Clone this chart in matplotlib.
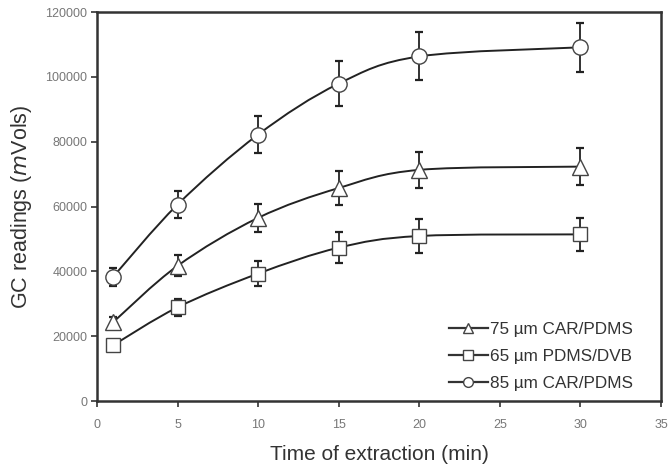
import matplotlib
matplotlib.use("Agg")
import matplotlib.pyplot as plt
import numpy as np
from matplotlib.path import Path
from matplotlib.patches import PathPatch
from matplotlib.lines import Line2D

plt.rcParams['font.family'] = ['Liberation Sans', 'DejaVu Sans']

time_min = [1, 5, 10, 15, 20, 30]
car75 = [24300, 41700, 56500, 65700, 71300, 72300]
car75_err = [1500, 3200, 4300, 5200, 5600, 5700]
pdms65 = [17200, 28900, 39300, 47300, 50900, 51400]
pdms65_err = [1000, 2700, 3900, 4700, 5100, 5100]
car85 = [38300, 60600, 82200, 97900, 106300, 109100]
car85_err = [2700, 4300, 5800, 7000, 7400, 7600]

labels = ["75 µm CAR/PDMS", "65 µm PDMS/DVB", "85 µm CAR/PDMS"]
markers = ["^", "s", "o"]
series = [(car75, car75_err), (pdms65, pdms65_err), (car85, car85_err)]

fig = plt.figure(figsize=(6.69, 4.67), dpi=100)
ax = fig.add_axes([97/669, 1-401/467, (661-97)/669, (401-12)/467])


def smooth_path(x, y, t=0.5):
    # Catmull-Rom style cubic Bezier through data points (Excel-like smoothing)
    x = np.asarray(x, float); y = np.asarray(y, float)
    n = len(x)
    verts = [(x[0], y[0])]
    codes = [Path.MOVETO]
    for i in range(n - 1):
        x0, y0 = (x[i-1], y[i-1]) if i > 0 else (x[i], y[i])
        x3, y3 = (x[i+2], y[i+2]) if i + 2 < n else (x[i+1], y[i+1])
        c1 = (x[i] + (x[i+1] - x0) * t / 3, y[i] + (y[i+1] - y0) * t / 3)
        c2 = (x[i+1] - (x3 - x[i]) * t / 3, y[i+1] - (y3 - y[i]) * t / 3)
        verts += [c1, c2, (x[i+1], y[i+1])]
        codes += [Path.CURVE4] * 3
    return Path(verts, codes)


for (vals, errs), m in zip(series, markers):
    ax.add_patch(PathPatch(smooth_path(time_min, vals, t=0.5), fill=False,
                           edgecolor='#222222', lw=1.4, zorder=2))
    ax.errorbar(time_min, vals, yerr=errs, fmt='none', ecolor='#222222',
                elinewidth=1.3, capsize=3, capthick=1.6, zorder=3)
    ax.plot(time_min, vals, linestyle='none', marker=m,
            markersize=11 if m != 's' else 10,
            markerfacecolor='white', markeredgecolor='#444444', markeredgewidth=1.0, zorder=4)

ax.set_xlim(0, 35)
ax.set_ylim(0, 120000)
ax.set_xticks(range(0, 36, 5))
ax.set_yticks(range(0, 120001, 20000))
ax.tick_params(direction='out', length=4, width=1.2, labelsize=9, labelcolor='#777777',
               colors='#333333', pad=3)
ax.tick_params(axis='x', pad=9)
for s in ax.spines.values():
    s.set_linewidth(1.8)
    s.set_color('#333333')

ax.set_xlabel("Time of extraction (min)", fontsize=15, color='#333333', labelpad=10)
ax.set_ylabel(r"GC readings ($\mathit{m}$Vols)", fontsize=15.5, color='#333333', labelpad=8)

handles = [Line2D([], [], color='#333333', lw=1.6, marker=m, markersize=7,
                  markerfacecolor='white', markeredgecolor='#444444') for m in markers]
ax.legend(handles, labels, loc='lower right', frameon=False, fontsize=12.3,
          handlelength=2.3, handletextpad=0.1, labelspacing=0.7,
          bbox_to_anchor=(0.977, -0.013), labelcolor='#333333')

fig.savefig("out.png", dpi=100)
